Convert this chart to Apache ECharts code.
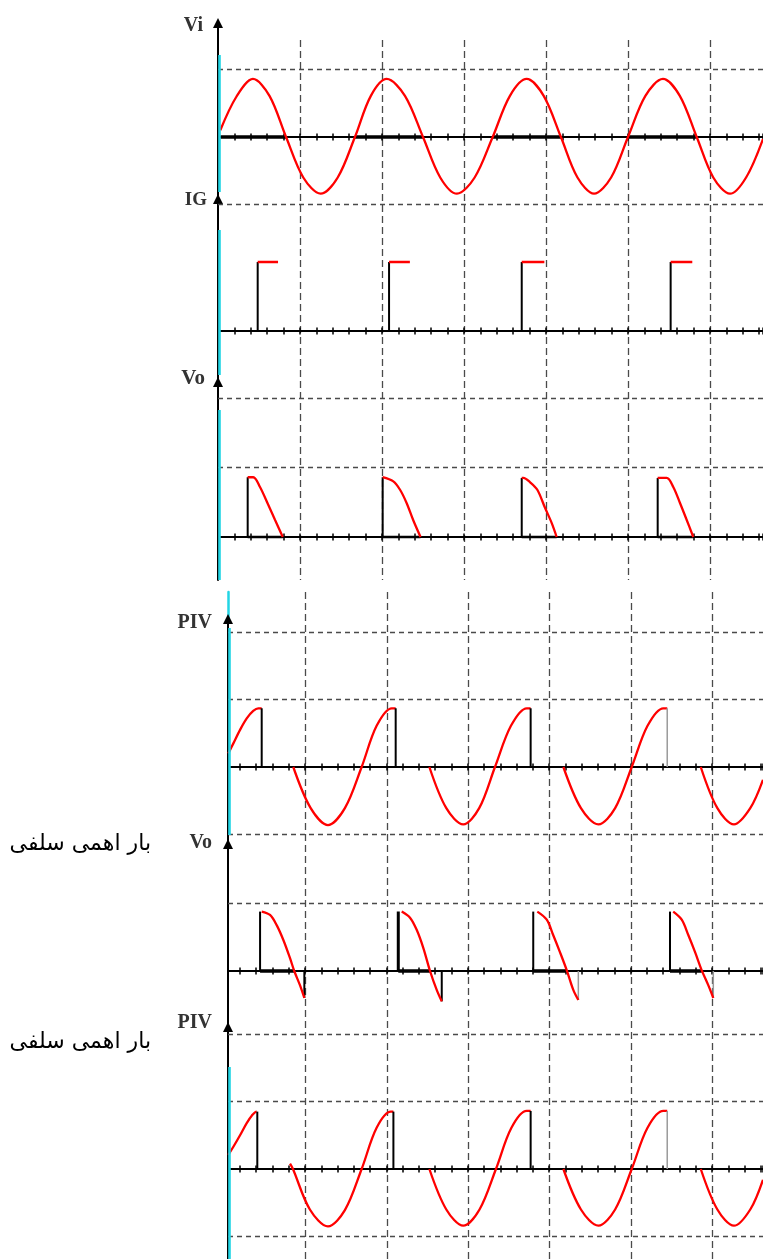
<!DOCTYPE html>
<html>
<head>
<meta charset="utf-8">
<script src="https://cdn.jsdelivr.net/npm/echarts@6/dist/echarts.min.js"></script>
<style>
  html, body { margin: 0; padding: 0; background: #fff; }
  #c { width: 763px; height: 1259px; }
</style>
</head>
<body>
<div id="c"></div>
<script>
// Thyristor half-wave rectifier waveforms.
// x: time in small divisions (5 per grid square), y: volts in grid divisions.

// Supply voltage
const viTrace = [
  [0.14, 0.10], [1.13, 0.60], [2.13, 0.86], [3.14, 0.61], [4.15, 0], [5.2, -0.60], [6.26, -0.84], [7.3, -0.60], [8.35, 0],
  [9.32, 0.61], [10.29, 0.86], [11.4, 0.61], [12.5, 0], [13.55, -0.60], [14.57, -0.84], [15.65, -0.60], [16.75, 0],
  [17.8, 0.61], [18.82, 0.86], [19.86, 0.61], [20.91, 0], [21.92, -0.60], [22.93, -0.84], [23.97, -0.60], [25.0, 0],
  [26.06, 0.61], [27.13, 0.86], [28.16, 0.61], [29.19, 0], [30.2, -0.60], [31.22, -0.84], [32.2, -0.60], [33.23, -0.03]
];
// positive half cycles (marked on the time axis)
const viHigh = [[0.14, 4.15], [8.35, 12.5], [16.75, 20.91], [25.0, 29.19]];

// Gate pulses
const igOn = [2.42, 10.43, 18.52, 27.6];
const igOff = [3.66, 11.7, 19.9, 28.92];
const igLevel = 1.0;

// Output voltage, resistive load (each segment starts at the firing instant)
const voR = [
  [[1.81, 0.86], [2.15, 0.86], [2.56, 0.72], [3.07, 0.46], [3.48, 0.245], [3.95, 0]],
  [[10.04, 0.86], [10.69, 0.80], [11.1, 0.68], [11.5, 0.49], [11.9, 0.245], [12.35, 0]],
  [[18.52, 0.85], [18.62, 0.85], [19.02, 0.79], [19.47, 0.68], [19.94, 0.42], [20.35, 0.20], [20.65, 0]],
  [[26.81, 0.85], [27.36, 0.85], [27.76, 0.72], [28.17, 0.49], [28.58, 0.245], [28.98, 0]]
];

// Thyristor voltage, resistive load (segments end where the thyristor fires)
const pivR = [
  [[0.29, 0.20], [0.6, 0.35], [1.01, 0.55], [1.42, 0.72], [1.82, 0.83], [2.13, 0.87], [2.34, 0.87]],
  [[4.28, 0], [5.35, -0.61], [6.41, -0.86], [7.45, -0.61], [8.48, 0], [9.4, 0.61], [10.33, 0.87], [10.57, 0.87]],
  [[12.64, 0], [13.68, -0.61], [14.72, -0.85], [15.7, -0.61], [16.67, 0], [17.65, 0.61], [18.62, 0.87], [18.86, 0.87]],
  [[20.87, 0], [21.95, -0.61], [23.02, -0.85], [24.05, -0.61], [25.07, 0], [26.04, 0.61], [27.01, 0.87], [27.25, 0.87]],
  [[29.31, 0], [30.33, -0.61], [31.35, -0.85], [32.35, -0.61], [33.13, -0.19]]
];

// Output voltage, resistive-inductive load (conduction continues past zero)
const voRL = [
  [[2.34, 0.88], [2.85, 0.83], [3.26, 0.68], [3.67, 0.46], [4.08, 0.19], [4.34, 0], [4.69, -0.21], [4.96, -0.40]],
  [[10.94, 0.88], [11.45, 0.79], [11.86, 0.61], [12.27, 0.34], [12.68, 0], [13.09, -0.28], [13.4, -0.45]],
  [[19.27, 0.88], [19.85, 0.76], [20.25, 0.53], [20.66, 0.28], [21.08, 0.01], [21.48, -0.28], [21.79, -0.43]],
  [[27.62, 0.88], [28.14, 0.76], [28.55, 0.53], [28.96, 0.28], [29.37, 0.01], [29.77, -0.21], [30.08, -0.40]]
];
// firing instant and zero crossing of each conduction interval
const voRLOn = [[2.24, 4.34], [10.73, 12.68], [19.02, 21.08], [27.42, 29.37]];

// Thyristor voltage, resistive-inductive load
const pivRL = [
  [[0.29, 0.21], [0.6, 0.33], [1.01, 0.50], [1.42, 0.68], [1.73, 0.79], [2.03, 0.85], [2.07, 0.85]],
  [[4.08, 0.08], [4.26, 0], [5.3, -0.60], [6.41, -0.85], [7.45, -0.61], [8.48, 0], [9.4, 0.61], [10.27, 0.85], [10.43, 0.85]],
  [[12.64, 0], [13.68, -0.60], [14.72, -0.84], [15.72, -0.60], [16.73, 0], [17.68, 0.61], [18.62, 0.86], [18.86, 0.86]],
  [[20.87, 0], [21.95, -0.60], [23.02, -0.84], [24.05, -0.60], [25.07, 0], [26.04, 0.61], [27.01, 0.86], [27.25, 0.86]],
  [[29.31, 0], [30.33, -0.60], [31.35, -0.84], [32.35, -0.60], [33.13, -0.16]]
];

// Dashed reference levels (grid divisions) per trace
const viGuides = [1, -1];
const igGuides = [];
const voRGuides = [2, 1];
const pivRGuides = [2, 1, -1];
const voRLGuides = [1];
const pivRLGuides = [2, 1, -1];

const loadCaption = 'بار اهمی سلفی';

// ---------------- layout ----------------
const W = 763;
const RED = '#ff0000';
const CYAN = '#22d5e4';
const DASH_V = { color: '#4a4a4a', width: 1.3, type: [7, 4] };
const DASH_H = { color: '#4a4a4a', width: 1.3, type: [5, 4] };

// x0: where time 0 sits, unit: px per small division, axisX: vertical axis position
const SEC = {
  top:    { x0: 218,   unit: 16.4,  axisX: 218, gridX: 300,   gridTop: 40,  gridBottom: 580 },
  bottom: { x0: 223.6, unit: 16.28, axisX: 228, gridX: 305.4, gridTop: 592, gridBottom: 1259 }
};

const PANELS = [
  { label: 'Vi',  sec: 'top',    top: 23,   bottom: 206,  zero: 137,  unit: 67.5, guides: viGuides,    cyan: [55, 192],   gap: -3, pad: 15, fs: 20 },
  { label: 'IG',  sec: 'top',    top: 199,  bottom: 382,  zero: 331,  unit: 69,   guides: igGuides,    cyan: [230, 375],  gap: -1, pad: 11, fs: 19 },
  { label: 'Vo',  sec: 'top',    top: 382,  bottom: 580,  zero: 537,  unit: 69.5, guides: voRGuides,   cyan: [410, 580],  gap: 3,  pad: 13, fs: 21 },
  { label: 'PIV', sec: 'bottom', top: 619,  bottom: 844,  zero: 767,  unit: 67.5, guides: pivRGuides,  cyan: [628, 835],  gap: -4, pad: 16, fs: 20 },
  { label: 'Vo',  sec: 'bottom', top: 844,  bottom: 1027, zero: 971,  unit: 67.5, guides: voRLGuides,  cyan: null,       gap: 1,  pad: 16, fs: 20 },
  { label: 'PIV', sec: 'bottom', top: 1027, bottom: 1259, zero: 1169, unit: 67.5, guides: pivRLGuides, cyan: [1067, 1259], gap: 4, pad: 16, fs: 20 }
];

const grid = [], xAxis = [], yAxis = [], series = [];

function addGrid(rect) {
  grid.push(Object.assign({ outerBoundsMode: 'none', containLabel: false }, rect));
  return grid.length - 1;
}

// vertical dashed grid lines, one layer per section
function addOverlay(s) {
  const gi = addGrid({ left: s.gridX, top: s.gridTop, width: 30 * s.unit, height: s.gridBottom - s.gridTop });
  xAxis.push({
    gridIndex: gi, type: 'value', min: 0, max: 30, interval: 5, z: -1,
    axisLine: { show: false }, axisTick: { show: false }, axisLabel: { show: false },
    splitLine: { show: true, showMaxLine: false, lineStyle: DASH_V }
  });
  yAxis.push({ gridIndex: gi, type: 'value', min: 0, max: 1, show: false });
}
addOverlay(SEC.top);
addOverlay(SEC.bottom);

// short stub of the vertical axis above the first lower trace
(function () {
  const gi = addGrid({ left: SEC.bottom.axisX, top: 592, width: W - SEC.bottom.axisX, height: 619 - 592 });
  xAxis.push({ gridIndex: gi, type: 'value', min: 0, max: 1, show: false });
  yAxis.push({
    gridIndex: gi, type: 'value', min: 0, max: 1,
    axisLine: { show: true, onZero: false, lineStyle: { color: CYAN, width: 2.5 } },
    axisTick: { show: false }, axisLabel: { show: false }, splitLine: { show: false }
  });
})();

function addPanel(p) {
  const s = SEC[p.sec];
  const gi = addGrid({ left: s.axisX, top: p.top, width: W - s.axisX, height: p.bottom - p.top });
  const xmin = (s.axisX - s.x0) / s.unit;
  const xmax = (W - s.x0) / s.unit;
  const ymin = -(p.bottom - p.zero) / p.unit;
  const ymax = (p.zero - p.top) / p.unit;
  const yi = yAxis.length;
  yAxis.push({
    gridIndex: gi, type: 'value', min: ymin, max: ymax,
    axisLine: { show: true, onZero: false, symbol: ['none', 'triangle'], symbolSize: [10, 10],
      lineStyle: { color: '#000', width: 2 } },
    axisTick: { show: false }, axisLabel: { show: false }, splitLine: { show: false },
    name: p.label, nameLocation: 'end', nameGap: p.gap,
    nameTextStyle: {
      fontFamily: '"Liberation Serif", "DejaVu Serif", serif', fontWeight: 'bold', fontSize: p.fs,
      color: '#333', align: 'right', verticalAlign: 'middle', padding: [0, p.pad, 0, 0]
    }
  });
  const xi = xAxis.length;
  const tick = { show: true, length: 3.5, lineStyle: { color: '#000', width: 1.5 } };
  const common = {
    gridIndex: gi, type: 'value', min: xmin, max: xmax, minInterval: 1, maxInterval: 1,
    axisLabel: { show: false }, splitLine: { show: false }, axisTick: tick
  };
  xAxis.push(Object.assign({}, common, { position: 'bottom',
    axisLine: { show: true, onZero: true, onZeroAxisIndex: yi, lineStyle: { color: '#000', width: 2 } } }));
  xAxis.push(Object.assign({}, common, { position: 'top',
    axisLine: { show: false, onZero: true, onZeroAxisIndex: yi } }));

  // dashed levels and cyan axis highlight
  const ml = p.guides.map(v => ({ yAxis: v, lineStyle: DASH_H }));
  if (p.cyan) {
    const a = (p.zero - p.cyan[0]) / p.unit;
    const b = Math.max((p.zero - p.cyan[1]) / p.unit, ymin);
    const cx = xmin + 0.07;
    const st = { color: CYAN, width: 2.6, type: 'solid' };
    ml.push([{ coord: [cx, a], lineStyle: st }, { coord: [cx, b], lineStyle: st }]);
  }
  series.push({
    type: 'line', xAxisIndex: xi, yAxisIndex: yi, data: [], silent: true, animation: false,
    markLine: { symbol: ['none', 'none'], silent: true, animation: false, label: { show: false }, data: ml }
  });
  return { xi, yi };
}

function line(ax, data, color, width, smooth) {
  series.push({
    type: 'line', xAxisIndex: ax.xi, yAxisIndex: ax.yi, data: data,
    symbol: 'none', showSymbol: false, smooth: smooth ? 0.33 : false, clip: false,
    lineStyle: { color: color, width: width, cap: 'butt' }, silent: true, animation: false
  });
}

const ax = PANELS.map(addPanel);

// Vi
viHigh.forEach(h => line(ax[0], [[h[0], 0], [h[1], 0]], '#000', 3.5, false));
line(ax[0], viTrace, RED, 2.3, true);

// IG
igOn.forEach((t, i) => {
  line(ax[1], [[t, 0], [t, igLevel]], '#000', 2, false);
  line(ax[1], [[t, igLevel], [igOff[i], igLevel]], RED, 2.6, false);
});

// Vo, R load
voR.forEach(seg => {
  const f = seg[0];
  line(ax[2], [[f[0], 0], [f[0], f[1]]], '#000', 2, false);
  line(ax[2], [[f[0], 0], [seg[seg.length - 1][0], 0]], '#000', 2.5, false);
  line(ax[2], seg, RED, 2.3, true);
});

// thyristor voltage traces: vertical drop to zero at each firing instant
function pivTrace(a, segs) {
  segs.forEach((seg, i) => {
    line(a, seg, RED, 2.3, true);
    if (i < segs.length - 1) {
      const e = seg[seg.length - 1];
      line(a, [[e[0], e[1]], [e[0], 0]], i < segs.length - 2 ? '#000' : '#9a9a9a', i < segs.length - 2 ? 2 : 1.5, false);
    }
  });
}
pivTrace(ax[3], pivR);

// Vo, RL load
voRL.forEach((seg, i) => {
  const on = voRLOn[i];
  const f = seg[0], e = seg[seg.length - 1];
  line(ax[4], [[on[0], 0], [on[1], 0]], '#000', 3.5, false);
  line(ax[4], [[on[0], 0], [on[0], f[1]]], '#000', i === 1 ? 3 : 2, false);
  line(ax[4], [[e[0], e[1]], [e[0], 0]], i < 2 ? '#000' : '#9a9a9a', i < 2 ? 2 : 1.5, false);
  line(ax[4], seg, RED, 2.3, true);
});

pivTrace(ax[5], pivRL);

const chart = echarts.init(document.getElementById('c'), null, { renderer: 'canvas', width: 763, height: 1259 });
chart.setOption({
  animation: false,
  backgroundColor: '#fff',
  grid: grid,
  xAxis: xAxis,
  yAxis: yAxis,
  series: series,
  graphic: [
    { type: 'text', x: 151, y: 844, style: { text: loadCaption, font: '22px "DejaVu Sans", sans-serif', fill: '#000', align: 'right', verticalAlign: 'middle' } },
    { type: 'text', x: 151, y: 1042, style: { text: loadCaption, font: '22px "DejaVu Sans", sans-serif', fill: '#000', align: 'right', verticalAlign: 'middle' } }
  ]
});
</script>
</body>
</html>
